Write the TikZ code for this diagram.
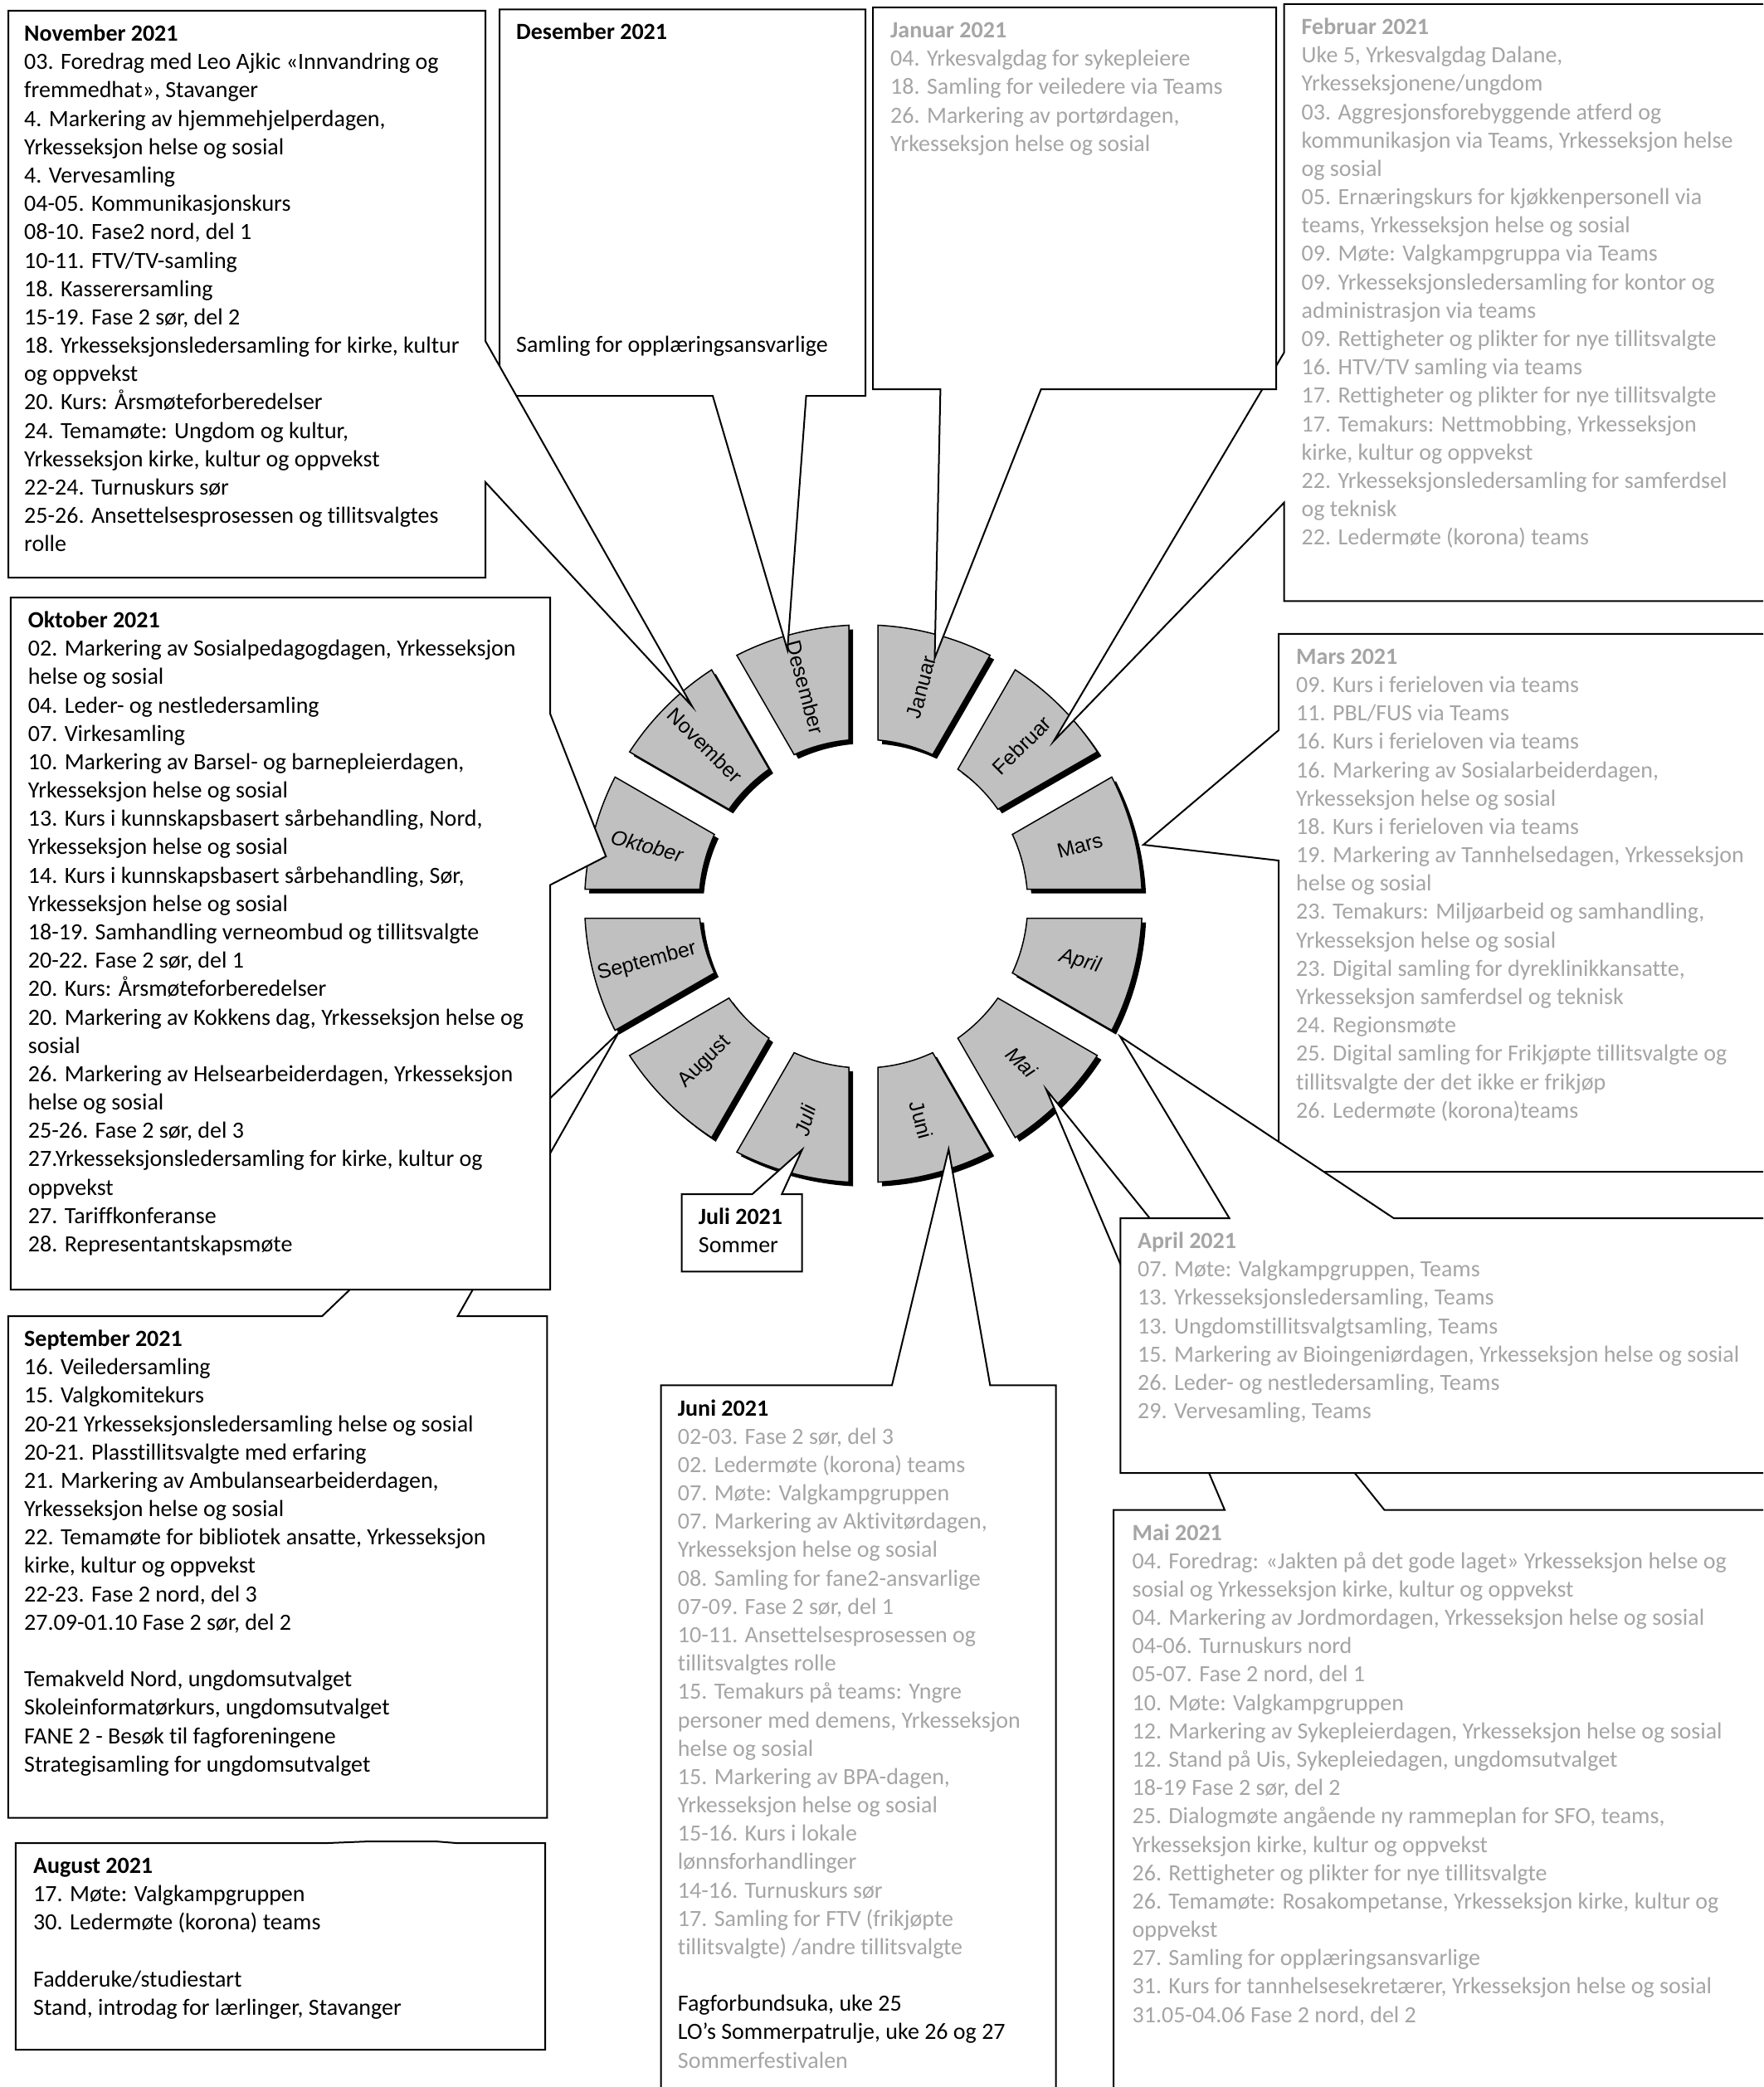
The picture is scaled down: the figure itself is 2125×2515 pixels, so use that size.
\documentclass[tikz,border=0pt]{standalone}
\usepackage{fontspec}
\setmainfont{Carlito}[Ligatures={NoCommon,NoContextual}]
\newfontfamily\arialfont{Liberation Sans}
\definecolor{tgray}{RGB}{165,165,165}
\definecolor{segfill}{RGB}{192,192,192}
\tikzset{
  boxline/.style={draw=black, line width=2pt, fill=white, line join=miter},
  seg/.style={draw=black, line width=1.5pt, fill=segfill, line join=miter},
  segshadow/.style={fill=black},
  monthlbl/.style={font=\arialfont\fontsize{25}{30}\selectfont, inner sep=0pt},
  boxtext/.style={anchor=base west, inner sep=0pt, font=\fontsize{28}{34.18}\selectfont, text=black},
  graytext/.style={boxtext, text=tgray}
}
\newcommand{\tl}[1]{\begin{tabular}[t]{@{}l@{}}#1\end{tabular}}
\begin{document}
\begin{tikzpicture}[x=1pt,y=-1pt]
\useasboundingbox (0,0) rectangle (2125,2515);
\clip (0,0) rectangle (2125,2515);
\fill[white] (0,0) rectangle (2125,2515);

% ---------------- wheel ----------------
\begin{scope}[shift={(1040.6,1089)}, x=1pt, y=1pt]
\foreach \a/\nm/\rt/\sh in {60/Januar/75/\upshape, 30/Februar/45/\upshape, 0/Mars/15/\upshape,
  -30/April/-15/\itshape, -60/Mai/-45/\itshape, -90/Juni/-75/\upshape, -120/Juli/75/\itshape,
  -150/August/45/\upshape, 180/September/15/\upshape, 150/Oktober/-15/\itshape,
  120/November/-45/\upshape, 90/Desember/-75/\upshape}{
  \pgfmathsetmacro\ao{\a+2.985}
  \pgfmathsetmacro\bo{\a+30-2.985}
  \pgfmathsetmacro\ai{\a+5.071}
  \pgfmathsetmacro\bi{\a+30-5.071}
  \pgfmathsetmacro\cc{\a+15}
  \fill[segshadow, shift={(5,-5)}] (\ao:336) arc[start angle=\ao, end angle=\bo, radius=336]
     -- (\bi:198) arc[start angle=\bi, end angle=\ai, radius=198] -- cycle;
  \draw[seg] (\ao:336) arc[start angle=\ao, end angle=\bo, radius=336]
     -- (\bi:198) arc[start angle=\bi, end angle=\ai, radius=198] -- cycle;
  \node[monthlbl, rotate=\rt] (lbl\nm) at (\cc:270) {\sh\nm};
}
\end{scope}

% ---------------- callout tips ----------------
\coordinate (tipNov) at (834,851);
\coordinate (tipDes) at (949,783);
\coordinate (tipJan) at (1126.5,793);
\coordinate (tipFeb) at (1270,893);
\coordinate (tipMar) at (1378,1018);
\coordinate (tipApr) at (1350,1249);
\coordinate (tipMai) at (1261,1313);
\coordinate (tipJun) at (1143.3,1385);
\coordinate (tipJul) at (966.7,1385.5);
\coordinate (tipSep) at (745.6,1244.4);
\coordinate (tipOkt) at (730.3,1032);

% ---------------- Desember ----------------
\draw[boxline] (602,11.5) -- (1043,11.5) -- (1043,477) -- (971.6,477) -- (tipDes) -- (859,477) -- (602,477) -- cycle;
\node[boxtext] (desT) at (622,48) {\tl{\textbf{Desember 2021}}};
\node[boxtext] (desT2) at (622,424) {\tl{Samling for opplæringsansvarlige}};

% ---------------- November ----------------
\draw[boxline] (10,13) -- (585,13) -- (585,411) -- (tipNov) -- (585,581) -- (585,696) -- (10,696) -- cycle;
\node[boxtext] (novT) at (29,49.6) {\tl{\textbf{November 2021}\\
03. Foredrag med Leo Ajkic «Innvandring og\\
fremmedhat», Stavanger\\
4. Markering av hjemmehjelperdagen,\\
Yrkesseksjon helse og sosial\\
4. Vervesamling\\
04-05. Kommunikasjonskurs\\
08-10. Fase2 nord, del 1\\
10-11. FTV/TV-samling\\
18. Kasserersamling\\
15-19. Fase 2 sør, del 2\\
18. Yrkesseksjonsledersamling for kirke, kultur\\
og oppvekst\\
20. Kurs: Årsmøteforberedelser\\
24. Temamøte: Ungdom og kultur,\\
Yrkesseksjon kirke, kultur og oppvekst\\
22-24. Turnuskurs sør\\
25-26. Ansettelsesprosessen og tillitsvalgtes\\
rolle}};

% ---------------- Februar ----------------
\draw[boxline] (1547.5,5) -- (2140,5) -- (2140,724.4) -- (1547.5,724.4) -- (1547.5,605.8) -- (tipFeb) -- (1547.5,425) -- cycle;
\node[graytext] (febT) at (1568.5,41.5) {\tl{\textbf{Februar 2021}\\
Uke 5, Yrkesvalgdag Dalane,\\
Yrkesseksjonene/ungdom\\
03. Aggresjonsforebyggende atferd og\\
kommunikasjon via Teams, Yrkesseksjon helse\\
og sosial\\
05. Ernæringskurs for kjøkkenpersonell via\\
teams, Yrkesseksjon helse og sosial\\
09. Møte: Valgkampgruppa via Teams\\
09. Yrkesseksjonsledersamling for kontor og\\
administrasjon via teams\\
09. Rettigheter og plikter for nye tillitsvalgte\\
16. HTV/TV samling via teams\\
17. Rettigheter og plikter for nye tillitsvalgte\\
17. Temakurs: Nettmobbing, Yrkesseksjon\\
kirke, kultur og oppvekst\\
22. Yrkesseksjonsledersamling for samferdsel\\
og teknisk\\
22. Ledermøte (korona) teams}};

% ---------------- Januar ----------------
\draw[boxline] (1052,9) -- (1538,9) -- (1538,469) -- (1254.7,469) -- (tipJan) -- (1133.4,469) -- (1052,469) -- cycle;
\node[graytext] (janT) at (1073,45.5) {\tl{\textbf{Januar 2021}\\
04. Yrkesvalgdag for sykepleiere\\
18. Samling for veiledere via Teams\\
26. Markering av portørdagen,\\
Yrkesseksjon helse og sosial}};

% ---------------- September ----------------
\draw[boxline] (9.8,1586) -- (388.3,1586) -- (tipSep) -- (551.7,1586) -- (659.3,1586) -- (659.3,2190.7) -- (9.8,2190.7) -- cycle;
\node[boxtext] (sepT) at (29,1622.5) {\tl{\textbf{September 2021}\\
16. Veiledersamling\\
15. Valgkomitekurs\\
20-21 Yrkesseksjonsledersamling helse og sosial\\
20-21. Plasstillitsvalgte med erfaring\\
21. Markering av Ambulansearbeiderdagen,\\
Yrkesseksjon helse og sosial\\
22. Temamøte for bibliotek ansatte, Yrkesseksjon\\
kirke, kultur og oppvekst\\
22-23. Fase 2 nord, del 3\\
27.09-01.10 Fase 2 sør, del 2\\
\\
Temakveld Nord, ungdomsutvalget\\
Skoleinformatørkurs, ungdomsutvalget\\
FANE 2 - Besøk til fagforeningene\\
Strategisamling for ungdomsutvalget}};

% ---------------- Oktober ----------------
\draw[boxline] (12.8,720) -- (663,720) -- (663,860) -- (tipOkt) -- (663,1066.5) -- (663,1554) -- (12.8,1554) -- cycle;
\node[boxtext] (oktT) at (33.7,756.5) {\tl{\textbf{Oktober 2021}\\
02. Markering av Sosialpedagogdagen, Yrkesseksjon\\
helse og sosial\\
04. Leder- og nestledersamling\\
07. Virkesamling\\
10. Markering av Barsel- og barnepleierdagen,\\
Yrkesseksjon helse og sosial\\
13. Kurs i kunnskapsbasert sårbehandling, Nord,\\
Yrkesseksjon helse og sosial\\
14. Kurs i kunnskapsbasert sårbehandling, Sør,\\
Yrkesseksjon helse og sosial\\
18-19. Samhandling verneombud og tillitsvalgte\\
20-22. Fase 2 sør, del 1\\
20. Kurs: Årsmøteforberedelser\\
20. Markering av Kokkens dag, Yrkesseksjon helse og\\
sosial\\
26. Markering av Helsearbeiderdagen, Yrkesseksjon\\
helse og sosial\\
25-26. Fase 2 sør, del 3\\
27.Yrkesseksjonsledersamling for kirke, kultur og\\
oppvekst\\
27. Tariffkonferanse\\
28. Representantskapsmøte}};

% ---------------- Mai ----------------
\draw[boxline] (1342,1819.6) -- (1476,1819.6) -- (tipMai) -- (1668.5,1819.6) -- (2140,1819.6) -- (2140,2530) -- (1342,2530) -- cycle;
\node[graytext] (maiT) at (1364.4,1856) {\tl{\textbf{Mai 2021}\\
04. Foredrag: «Jakten på det gode laget» Yrkesseksjon helse og\\
sosial og Yrkesseksjon kirke, kultur og oppvekst\\
04. Markering av Jordmordagen, Yrkesseksjon helse og sosial\\
04-06. Turnuskurs nord\\
05-07. Fase 2 nord, del 1\\
10. Møte: Valgkampgruppen\\
12. Markering av Sykepleierdagen, Yrkesseksjon helse og sosial\\
12. Stand på Uis, Sykepleiedagen, ungdomsutvalget\\
18-19 Fase 2 sør, del 2\\
25. Dialogmøte angående ny rammeplan for SFO, teams,\\
Yrkesseksjon kirke, kultur og oppvekst\\
26. Rettigheter og plikter for nye tillitsvalgte\\
26. Temamøte: Rosakompetanse, Yrkesseksjon kirke, kultur og\\
oppvekst\\
27. Samling for opplæringsansvarlige\\
31. Kurs for tannhelsesekretærer, Yrkesseksjon helse og sosial\\
31.05-04.06 Fase 2 nord, del 2}};

% ---------------- Mars ----------------
\draw[boxline] (1541,763.8) -- (2140,763.8) -- (2140,1412) -- (1541,1412) -- (1541,1037) -- (tipMar) -- (1541,880) -- cycle;
\node[graytext] (marT) at (1562,800.3) {\tl{\textbf{Mars 2021}\\
09. Kurs i ferieloven via teams\\
11. PBL/FUS via Teams\\
16. Kurs i ferieloven via teams\\
16. Markering av Sosialarbeiderdagen,\\
Yrkesseksjon helse og sosial\\
18. Kurs i ferieloven via teams\\
19. Markering av Tannhelsedagen, Yrkesseksjon\\
helse og sosial\\
23. Temakurs: Miljøarbeid og samhandling,\\
Yrkesseksjon helse og sosial\\
23. Digital samling for dyreklinikkansatte,\\
Yrkesseksjon samferdsel og teknisk\\
24. Regionsmøte\\
25. Digital samling for Frikjøpte tillitsvalgte og\\
tillitsvalgte der det ikke er frikjøp\\
26. Ledermøte (korona)teams}};

% ---------------- April ----------------
\draw[boxline] (1350.4,1468) -- (1481.6,1468) -- (tipApr) -- (1679.7,1468) -- (2140,1468) -- (2140,1775) -- (1350.4,1775) -- cycle;
\node[graytext] (aprT) at (1371,1504.5) {\tl{\textbf{April 2021}\\
07. Møte: Valgkampgruppen, Teams\\
13. Yrkesseksjonsledersamling, Teams\\
13. Ungdomstillitsvalgtsamling, Teams\\
15. Markering av Bioingeniørdagen, Yrkesseksjon helse og sosial\\
26. Leder- og nestledersamling, Teams\\
29. Vervesamling, Teams}};

% ---------------- Juni ----------------
\draw[boxline] (796.7,1669.3) -- (1075,1669.3) -- (tipJun) -- (1193.3,1669.3) -- (1272.7,1669.3) -- (1272.7,2530) -- (796.7,2530) -- cycle;
\node[graytext] (junT) at (816.7,1706) {\tl{\textcolor{black}{\textbf{Juni 2021}}\\
02-03. Fase 2 sør, del 3\\
02. Ledermøte (korona) teams\\
07. Møte: Valgkampgruppen\\
07. Markering av Aktivitørdagen,\\
Yrkesseksjon helse og sosial\\
08. Samling for fane2-ansvarlige\\
07-09. Fase 2 sør, del 1\\
10-11. Ansettelsesprosessen og\\
tillitsvalgtes rolle\\
15. Temakurs på teams: Yngre\\
personer med demens, Yrkesseksjon\\
helse og sosial\\
15. Markering av BPA-dagen,\\
Yrkesseksjon helse og sosial\\
15-16. Kurs i lokale\\
lønnsforhandlinger\\
14-16. Turnuskurs sør\\
17. Samling for FTV (frikjøpte\\
tillitsvalgte) /andre tillitsvalgte\\
\\
\textcolor{black}{Fagforbundsuka, uke 25}\\
\textcolor{black}{LO’s Sommerpatrulje, uke 26 og 27}\\
Sommerfestivalen}};

% ---------------- Juli ----------------
\draw[boxline] (821.7,1439) -- (906.7,1439) -- (tipJul) -- (942.3,1439) -- (966.7,1439) -- (966.7,1532.3) -- (821.7,1532.3) -- cycle;
\node[boxtext] (julT) at (841.7,1475.5) {\tl{\textbf{Juli 2021}\\
Sommer}};

% ---------------- August ----------------
\draw[boxline] (18.75,2221) -- (395,2221) -- (445,2219) -- (525,2219) -- (550,2221) -- (657,2221) -- (657,2470) -- (18.75,2470) -- cycle;
\node[boxtext] (augT) at (40,2257.5) {\tl{\textbf{August 2021}\\
17. Møte: Valgkampgruppen\\
30. Ledermøte (korona) teams\\
\\
Fadderuke/studiestart\\
Stand, introdag for lærlinger, Stavanger}};

\end{tikzpicture}
\end{document}
